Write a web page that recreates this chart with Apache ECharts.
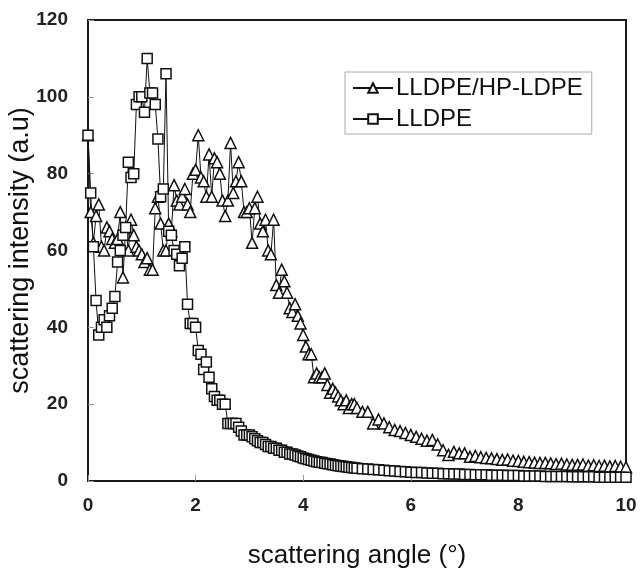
<!DOCTYPE html>
<html>
<head>
<meta charset="utf-8">
<script src="https://cdn.jsdelivr.net/npm/echarts@6/dist/echarts.min.js"></script>
<style>
  html, body { margin: 0; padding: 0; background: #fff; }
  #main { width: 640px; height: 569px; }
</style>
</head>
<body>
<div id="main"></div>
<script>
// scattering angle (deg), 0.05 steps up to 5, then 0.1 steps
var angles = [
  0, 0.05, 0.1, 0.15, 0.2, 0.25, 0.3, 0.35, 0.4, 0.45,
  0.5, 0.55, 0.6, 0.65, 0.7, 0.75, 0.8, 0.85, 0.9, 0.95,
  1, 1.05, 1.1, 1.15, 1.2, 1.25, 1.3, 1.35, 1.4, 1.45,
  1.5, 1.55, 1.6, 1.65, 1.7, 1.75, 1.8, 1.85, 1.9, 1.95,
  2, 2.05, 2.1, 2.15, 2.2, 2.25, 2.3, 2.35, 2.4, 2.45,
  2.5, 2.55, 2.6, 2.65, 2.7, 2.75, 2.8, 2.85, 2.9, 2.95,
  3, 3.05, 3.1, 3.15, 3.2, 3.25, 3.3, 3.35, 3.4, 3.45,
  3.5, 3.55, 3.6, 3.65, 3.7, 3.75, 3.8, 3.85, 3.9, 3.95,
  4, 4.05, 4.1, 4.15, 4.2, 4.25, 4.3, 4.35, 4.4, 4.45,
  4.5, 4.55, 4.6, 4.65, 4.7, 4.75, 4.8, 4.85, 4.9, 4.95,
  5,
  5.1, 5.2, 5.3, 5.4, 5.5, 5.6, 5.7, 5.8, 5.9, 6,
  6.1, 6.2, 6.3, 6.4, 6.5, 6.6, 6.7, 6.8, 6.9, 7,
  7.1, 7.2, 7.3, 7.4, 7.5, 7.6, 7.7, 7.8, 7.9, 8,
  8.1, 8.2, 8.3, 8.4, 8.5, 8.6, 8.7, 8.8, 8.9, 9,
  9.1, 9.2, 9.3, 9.4, 9.5, 9.6, 9.7, 9.8, 9.9, 10
];

var hpLdpe = [
  90, 70, 62, 69, 72, 61, 60, 66, 65, 63,
  62, 63, 70, 53, 66, 60, 68, 64, 61, 60,
  59, 57, 58, 55, 55, 71, 74, 67, 60, 60,
  67, 65, 77, 73, 72, 74, 76, 72, 70, 80,
  81, 90, 79, 78, 74, 85, 74, 84, 83, 80,
  73, 69, 73, 88, 75, 78, 83, 78, 70, 70,
  71, 62, 71, 74, 67, 65, 68, 60, 59, 68,
  51, 49, 55, 52, 49, 45, 44, 46, 43, 41,
  38, 35, 33, 33, 27, 28, 27, 27, 28, 25,
  23, 24, 23, 22, 21, 20, 21, 19, 20, 20,
  19,
  18, 18, 15, 16, 15, 14, 13.3, 13, 12.5, 12,
  11.5, 11, 10.5, 10.7, 9.5, 8, 6.8, 7.6, 7.2, 7.2,
  6.3, 6.5, 6.2, 6, 5.9, 5.7, 5.5, 5.6, 5.3, 5.2,
  5, 4.9, 4.8, 4.7, 4.7, 4.6, 4.4, 4.5, 4.3, 4.2,
  4.2, 4.3, 4, 4.1, 3.9, 4, 3.8, 3.9, 3.7, 3.6
];

var lldpe = [
  90, 75, 61, 47, 38, 40, 42, 40, 43, 45,
  48, 57, 60, 64, 66, 83, 79, 80, 98, 100,
  100, 96, 110, 101, 101, 98, 89, 74, 76, 106,
  65, 64, 60, 59, 56, 58, 61, 46, 41, 41,
  40, 34, 33, 29, 31, 27, 24, 22, 21, 21,
  20, 20, 15, 15, 15, 15, 14, 13, 12, 12,
  12, 11.5, 11, 10.5, 10, 10, 9.5, 9, 9, 8.5,
  8.5, 8, 8, 7.5, 7.5, 7, 7, 6.8, 6.5, 6.3,
  6, 5.8, 5.6, 5.4, 5.2, 5, 4.9, 4.8, 4.6, 4.5,
  4.4, 4.2, 4.1, 4, 3.9, 3.8, 3.7, 3.6, 3.5, 3.4,
  3.3,
  3.2, 3.1, 3.0, 2.9, 2.8, 2.7, 2.6, 2.5, 2.4, 2.3,
  2.2, 2.2, 2.1, 2.0, 2.0, 1.9, 1.9, 1.8, 1.8, 1.7,
  1.7, 1.6, 1.6, 1.6, 1.5, 1.5, 1.5, 1.4, 1.4, 1.4,
  1.3, 1.3, 1.3, 1.3, 1.2, 1.2, 1.2, 1.2, 1.2, 1.1,
  1.1, 1.1, 1.1, 1.1, 1.0, 1.0, 1.0, 1.0, 1.0, 1.0
];

var seriesNames = ['LLDPE/HP-LDPE', 'LLDPE'];

var font = "'Liberation Sans', Arial, sans-serif";

function pairs(vals) {
  return angles.map(function (a, i) { return [a, vals[i]]; });
}

var myChart = echarts.init(document.getElementById('main'));

var option = {
  backgroundColor: '#fff',
  animation: false,
  grid: {
    left: 88, right: 14, top: 20, bottom: 88,
    containLabel: false,
    outerBoundsMode: 'none',
    show: true,
    borderColor: '#1a1a1a',
    borderWidth: 2
  },
  legend: {
    data: seriesNames,
    orient: 'vertical',
    left: 345,
    top: 72,
    padding: [4, 9, 3, 7],
    itemGap: 7,
    itemWidth: 40,
    itemHeight: 12,
    borderColor: '#aaa',
    borderWidth: 1,
    textStyle: { fontFamily: font, fontSize: 24, color: '#111', padding: [0, 0, 0, -2] }
  },
  xAxis: {
    type: 'value',
    min: 0, max: 10, interval: 2,
    name: 'scattering angle (°)',
    nameLocation: 'middle',
    nameGap: 62,
    nameMoveOverlap: false,
    nameTextStyle: { fontFamily: font, fontSize: 26, color: '#111' },
    axisLine: { lineStyle: { color: '#1a1a1a', width: 2 } },
    axisTick: { inside: true, length: 6, lineStyle: { color: '#999' } },
    axisLabel: { fontFamily: font, fontSize: 19, fontWeight: 'bold', color: '#222', margin: 15 },
    splitLine: { show: false }
  },
  yAxis: {
    type: 'value',
    min: 0, max: 120, interval: 20,
    name: 'scattering intensity (a.u)',
    nameLocation: 'middle',
    nameGap: 54,
    nameMoveOverlap: false,
    nameTextStyle: { fontFamily: font, fontSize: 27, color: '#111' },
    axisLine: { lineStyle: { color: '#1a1a1a', width: 2 } },
    axisTick: { inside: true, length: 6, lineStyle: { color: '#999' } },
    axisLabel: { fontFamily: font, fontSize: 19, fontWeight: 'bold', color: '#222', margin: 20 },
    splitLine: { show: false }
  },
  series: [{
    name: seriesNames[0],
    type: 'line',
    data: pairs(hpLdpe),
    symbol: 'triangle',
    symbolSize: [11, 11],
    showAllSymbol: true,
    clip: false,
    lineStyle: { color: '#111', width: 1 },
    itemStyle: { color: '#fff', borderColor: '#111', borderWidth: 1.5 }
  }, {
    name: seriesNames[1],
    type: 'line',
    data: pairs(lldpe),
    symbol: 'rect',
    symbolSize: 10,
    showAllSymbol: true,
    clip: false,
    lineStyle: { color: '#111', width: 1 },
    itemStyle: { color: '#fff', borderColor: '#111', borderWidth: 1.5 }
  }]
};

myChart.setOption(option);
</script>
</body>
</html>
